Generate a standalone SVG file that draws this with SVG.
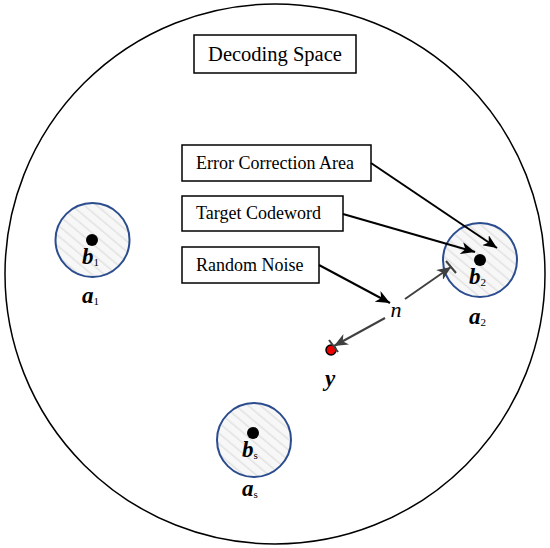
<svg xmlns="http://www.w3.org/2000/svg" width="550" height="548" viewBox="0 0 550 548">
<defs>
<pattern id="hatch" patternUnits="userSpaceOnUse" width="8" height="8" patternTransform="rotate(-50)">
<rect width="8" height="8" fill="#f7f7f7"/>
<line x1="0" y1="0" x2="0" y2="8" stroke="#e2e2e2" stroke-width="3"/>
</pattern>
<marker id="ah" viewBox="0 0 14 12" refX="14" refY="6" markerWidth="14" markerHeight="12" orient="auto" markerUnits="userSpaceOnUse">
<path d="M0,0 L14,6 L0,12 L4,6 z" fill="#000"/>
</marker>
<marker id="ahg" viewBox="0 0 14 12" refX="14" refY="6" markerWidth="14" markerHeight="12" orient="auto" markerUnits="userSpaceOnUse">
<path d="M0,0 L14,6 L0,12 L4,6 z" fill="#404040"/>
</marker>
</defs>
<style>
.box{fill:#fff;stroke:#000;stroke-width:1.5}
.txt{font-family:"Liberation Serif",serif;font-size:18px;fill:#000}
.lbl{font-family:"Liberation Serif",serif;font-size:23px;font-weight:bold;font-style:italic;fill:#000}
.sub{font-size:11px;font-style:normal;font-weight:normal}
.area{fill:url(#hatch);stroke:#2b4d8f;stroke-width:2}
.arr{stroke:#000;stroke-width:2;fill:none;marker-end:url(#ah)}
.narr{stroke:#404040;stroke-width:2;fill:none;marker-end:url(#ahg)}
</style>
<g id="space">
<circle cx="275" cy="274" r="270" fill="#fff" stroke="#000" stroke-width="1.5"/>
</g>
<g id="title">
<rect class="box" x="194" y="35" width="162" height="38"/>
<text class="txt" x="275" y="61" text-anchor="middle" style="font-size:20.5px">Decoding Space</text>
</g>
<g id="label-eca">
<rect class="box" x="182" y="145" width="189" height="36"/>
<text class="txt" x="196" y="169">Error Correction Area</text>
</g>
<g id="label-tc">
<rect class="box" x="182" y="196" width="161" height="35"/>
<text class="txt" x="196" y="219">Target Codeword</text>
</g>
<g id="label-rn">
<rect class="box" x="182" y="247" width="137" height="36"/>
<text class="txt" x="196" y="271">Random Noise</text>
</g>
<g id="node-a1">
<circle class="area" cx="92.5" cy="240" r="37"/>
<circle cx="92" cy="240" r="6" fill="#000"/>
<text class="lbl" x="82" y="264">b<tspan class="sub" dy="2">1</tspan></text>
<text class="lbl" x="82" y="303">a<tspan class="sub" dy="2">1</tspan></text>
</g>
<g id="node-a2">
<circle class="area" cx="480" cy="260" r="37"/>
<circle cx="480" cy="260" r="6" fill="#000"/>
<text class="lbl" x="469" y="284">b<tspan class="sub" dy="2">2</tspan></text>
<text class="lbl" x="469" y="324">a<tspan class="sub" dy="2">2</tspan></text>
</g>
<g id="node-as">
<circle class="area" cx="254" cy="440" r="37"/>
<circle cx="253" cy="433" r="6" fill="#000"/>
<text class="lbl" x="242" y="457">b<tspan class="sub" dy="2">s</tspan></text>
<text class="lbl" x="242" y="496">a<tspan class="sub" dy="2">s</tspan></text>
</g>
<g id="node-y">
<circle cx="331" cy="350" r="5" fill="#e00" stroke="#000" stroke-width="1.5"/>
<text class="lbl" x="325" y="386">y</text>
</g>
<g id="connectors">
<line class="arr" x1="371" y1="163" x2="497" y2="248"/>
<line class="arr" x1="343" y1="214" x2="475" y2="252"/>
<line class="arr" x1="319" y1="265" x2="390" y2="303"/>
<line class="narr" x1="405" y1="299" x2="451" y2="267"/>
<line class="narr" x1="385" y1="318" x2="334" y2="346"/>
<line x1="446" y1="261" x2="456" y2="273" stroke="#404040" stroke-width="2"/>
<line x1="329" y1="340" x2="338" y2="352" stroke="#404040" stroke-width="2"/>
<text x="396" y="317" text-anchor="middle" font-family="'Liberation Serif',serif" font-size="22" font-style="italic" fill="#000">n</text>
</g>
</svg>
